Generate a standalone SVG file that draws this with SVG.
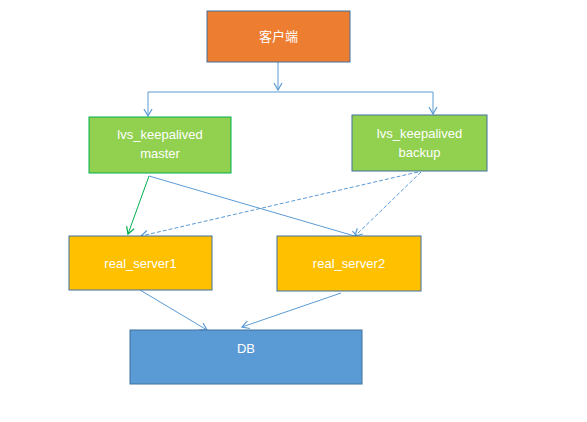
<svg xmlns="http://www.w3.org/2000/svg" width="587" height="422" viewBox="0 0 587 422">
<style>
.lbl{font-family:"Liberation Sans","Noto Sans CJK SC",sans-serif;font-size:13px;fill:#fff;text-anchor:middle}
.c{fill:none;stroke:#5B9BD5;stroke-width:1}
.d{stroke-dasharray:4,2}
</style>
<defs>
<marker id="ab" markerWidth="10" markerHeight="10" refX="8" refY="5" orient="auto" markerUnits="userSpaceOnUse">
<path d="M1,1 L8,5 L1,9" fill="none" stroke="#5B9BD5" stroke-width="1.2"/>
</marker>
<marker id="ag" markerWidth="10" markerHeight="10" refX="8" refY="5" orient="auto" markerUnits="userSpaceOnUse">
<path d="M1,1 L8,5 L1,9" fill="none" stroke="#00B050" stroke-width="1.2"/>
</marker>
</defs>
<rect width="587" height="422" fill="#fff"/>
<g id="connectors">
<path class="c" d="M278,62 V90" marker-end="url(#ab)"/>
<path class="c" d="M148,92 H433"/>
<path class="c" d="M148,92 V116" marker-end="url(#ab)"/>
<path class="c" d="M433,92 V114" marker-end="url(#ab)"/>
<path d="M149,176 L128,234" fill="none" stroke="#00B050" marker-end="url(#ag)"/>
<path class="c" d="M149,176 L358,237" marker-end="url(#ab)"/>
<path class="c d" d="M418,172 L141,236" marker-end="url(#ab)"/>
<path class="c d" d="M421,172 L355,236" marker-end="url(#ab)"/>
<path class="c" d="M140,290 L207,330" marker-end="url(#ab)"/>
<path class="c" d="M341,293 L242,327" marker-end="url(#ab)"/>
</g>
<g id="client">
<rect x="207" y="11" width="143" height="51" fill="#ED7D31" stroke="#41719C"/>
<text class="lbl" x="278.5" y="41">客户端</text>
</g>
<g id="master">
<rect x="89" y="117" width="142" height="56" fill="#92D050" stroke="#00B050"/>
<text class="lbl" x="160" y="139">lvs_keepalived</text>
<text class="lbl" x="160" y="158">master</text>
</g>
<g id="backup">
<rect x="352" y="115" width="135" height="56" fill="#92D050" stroke="#41719C"/>
<text class="lbl" x="419.5" y="138">lvs_keepalived</text>
<text class="lbl" x="419.5" y="157">backup</text>
</g>
<g id="rs1">
<rect x="69" y="236" width="143" height="54" fill="#FFC000" stroke="#41719C"/>
<text class="lbl" x="140.5" y="268">real_server1</text>
</g>
<g id="rs2">
<rect x="277" y="236" width="144" height="55" fill="#FFC000" stroke="#41719C"/>
<text class="lbl" x="349" y="268">real_server2</text>
</g>
<g id="db">
<rect x="130" y="330" width="232" height="54" fill="#5B9BD5" stroke="#41719C"/>
<text class="lbl" x="246" y="353">DB</text>
</g>
</svg>
